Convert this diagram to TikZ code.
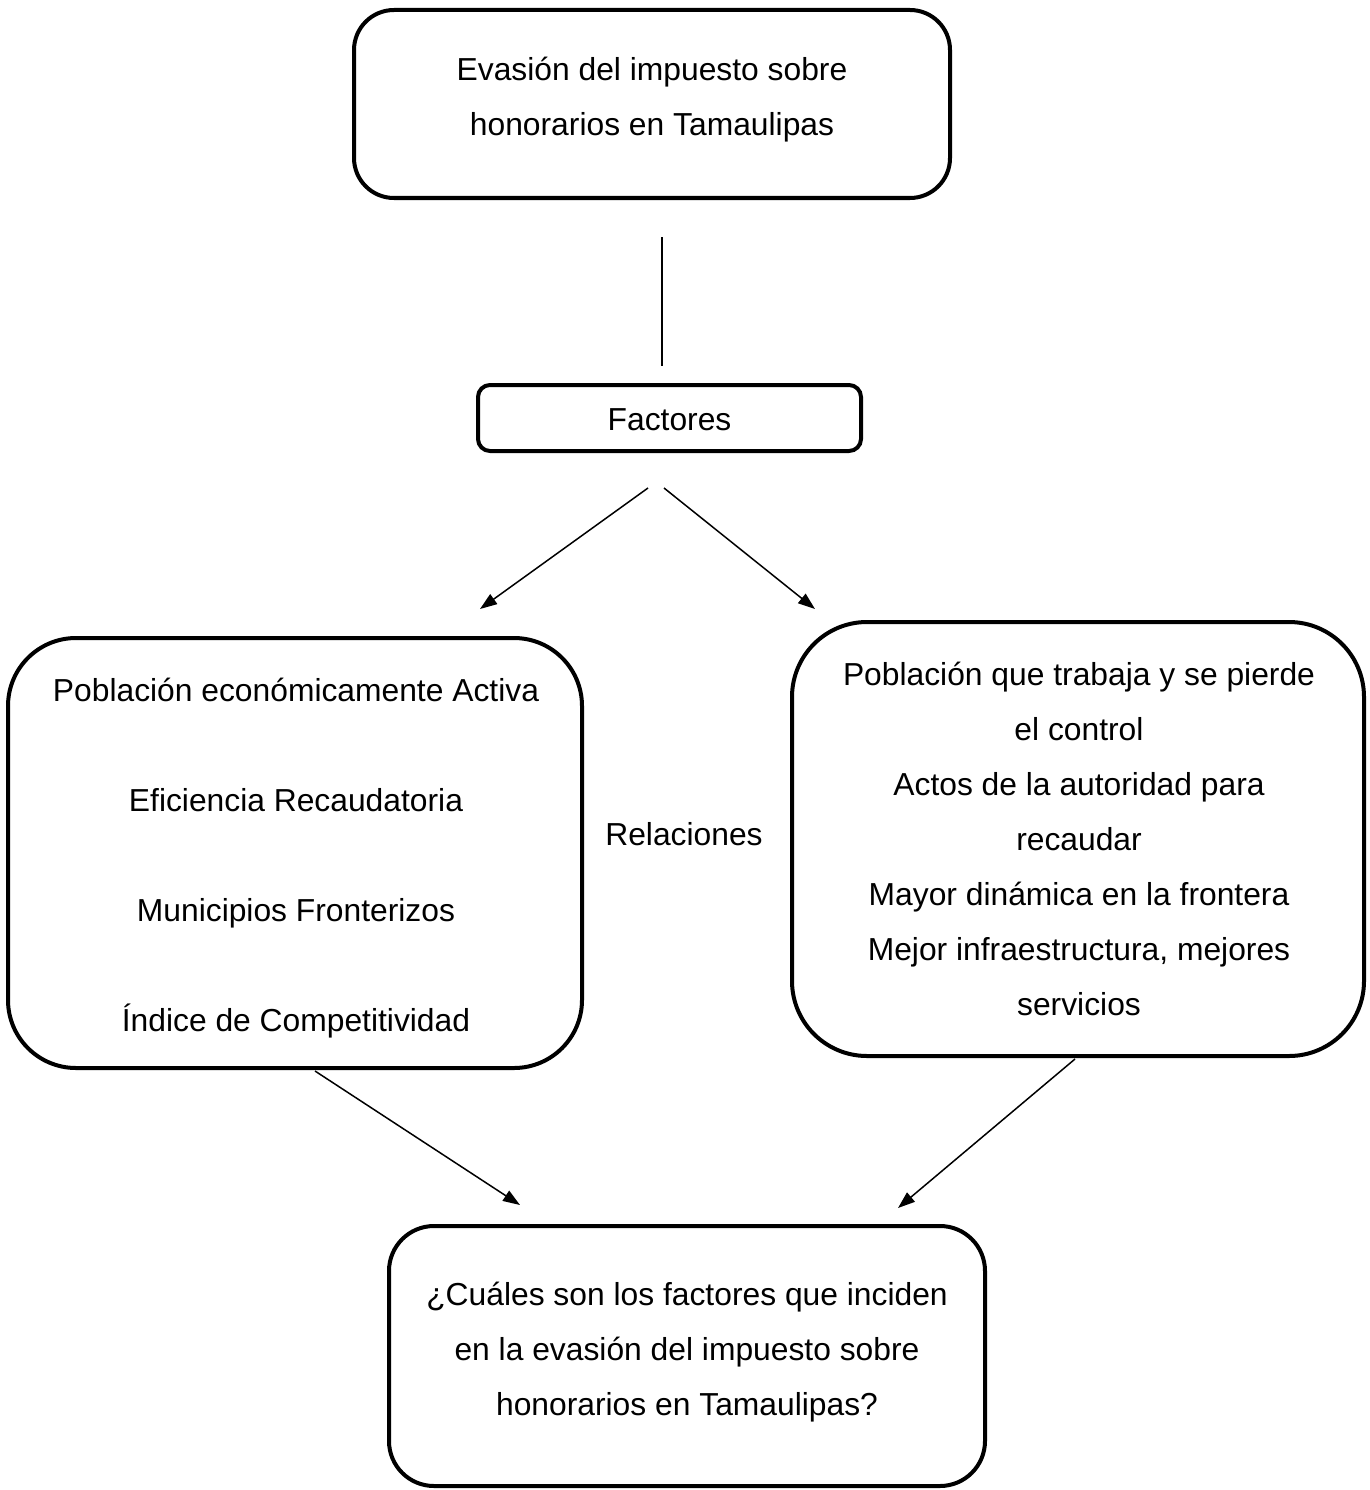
\documentclass[tikz,border=0pt]{standalone}
\usepackage{fontspec}
\setmainfont{Liberation Sans}
\usetikzlibrary{arrows.meta,calc}
\begin{document}
\begin{tikzpicture}[x=1pt,y=-1pt,
  font=\fontsize{31.8pt}{55pt}\selectfont,
  box/.style={draw, line width=4pt, rounded corners=#1, inner sep=0pt},
  conn/.style={line width=1.5pt},
  arr/.style={conn, -{Triangle[length=17pt,width=12pt]}},
  txt/.style={align=center, inner sep=0pt}]
\useasboundingbox[fill=white] (0,0) rectangle (1369,1490);
% boxes
\node[box=40pt, minimum width=596pt, minimum height=188pt] (top) at (652,104) {};
\node[txt] (topT) at ($(top.center)+(0,-4)$) {Evasión del impuesto sobre\\honorarios en Tamaulipas};
\node[box=12pt, minimum width=383pt, minimum height=66pt] (fac) at (669.5,418) {};
\node[txt] (facT) at ($(fac.center)+(0,2)$) {Factores};
\node[box=68pt, minimum width=574pt, minimum height=430pt] (left) at (295,853) {};
\node[txt] (leftT) at ($(left.center)+(1,5.5)$)
  {Población económicamente Activa\\[55pt]Eficiencia Recaudatoria\\[55pt]Municipios Fronterizos\\[55pt]Índice de Competitividad};
\node[box=75pt, minimum width=572pt, minimum height=434pt] (right) at (1078,839) {};
\node[txt] (rightT) at ($(right.center)+(1,0)$)
  {Población que trabaja y se pierde\\el control\\Actos de la autoridad para\\recaudar\\Mayor dinámica en la frontera\\Mejor infraestructura, mejores\\servicios};
\node[box=45pt, minimum width=596pt, minimum height=260pt] (bot) at (687,1356) {};
\node[txt] (botT) at ($(bot.center)+(0,-3.5)$) {¿Cuáles son los factores que inciden\\en la evasión del impuesto sobre\\honorarios en Tamaulipas?};
\node[inner sep=0pt] (rel) at (684,834) {Relaciones};
% connectors
\draw[conn] ($(top.south)+(10,37)$) -- ($(fac.north)+(-7.5,-17)$);
\draw[arr] ($(fac.south)+(-21.5,35)$) -- ($(left.north)+(185,-27)$);
\draw[arr] ($(fac.south)+(-5.5,35)$) -- ($(right.north)+(-263,-11)$);
\draw[arr] ($(left.south)+(20,1)$) -- ($(bot.north)+(-167,-19)$);
\draw[arr] ($(right.south)+(-3,1)$) -- ($(bot.north)+(211,-16)$);
\end{tikzpicture}
\end{document}
